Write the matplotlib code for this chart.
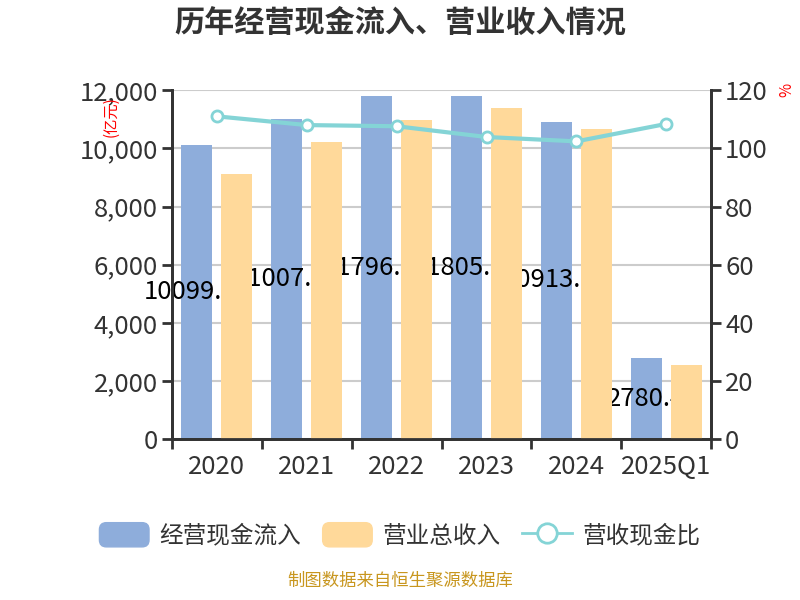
import matplotlib.pyplot as plt
import numpy as np
from matplotlib.patches import Patch, FancyBboxPatch
from matplotlib.lines import Line2D
from matplotlib.legend_handler import HandlerPatch
from matplotlib.ticker import FuncFormatter

plt.rcParams['font.family'] = ['Noto Sans CJK SC', 'DejaVu Sans']

years = ['2020', '2021', '2022', '2023', '2024', '2025Q1']
cash_in = [10099.64, 11007.52, 11796.03, 11805.17, 10913.02, 2780.4]
revenue = [9113, 10213, 10970, 11382, 10660, 2545]
ratio = [111.0, 108.0, 107.6, 103.9, 102.4, 108.4]

blue = '#8eaddb'
orange = '#ffd99a'
teal = '#84d4d6'
dark = '#333333'

fig = plt.figure(figsize=(8, 6), dpi=100)
ax = fig.add_axes([0.215, 0.268, 0.674, 0.5817])
ax2 = ax.twinx()

x = np.arange(len(years))
w = 0.345
off = 0.223

ax.bar(x - off, cash_in, w, color=blue, zorder=2)
for xi, v in zip(x, cash_in):
    ax.text(xi - off, v / 2, f'{v}', ha='center', va='center',
            fontsize=18.5, color='black', zorder=2.5)
ax.bar(x + off, revenue, w, color=orange, zorder=3)

ax.set_xlim(-0.5, len(years) - 0.5)
ax.set_ylim(0, 12000)
ax.set_yticks(np.arange(0, 12001, 2000))
ax.yaxis.set_major_formatter(FuncFormatter(lambda v, p: f'{int(v):,}'))
ax.grid(axis='y', color='#cccccc', lw=1.5, zorder=0)
ax.set_axisbelow(True)

ax.set_xticks(x)
ax.set_xticklabels(years)
ax.set_xticks(np.arange(-0.5, len(years)), minor=True)
ax.tick_params(axis='x', which='major', length=0, pad=11, labelsize=18.5, labelcolor=dark)
ax.tick_params(axis='x', which='minor', length=7, width=2, color=dark)
ax.tick_params(axis='y', length=7, width=2, color=dark, labelsize=18.5, labelcolor=dark, pad=3)

ax2.plot(x, ratio, color=teal, lw=3, marker='o', markersize=8,
         markerfacecolor='white', markeredgecolor=teal, markeredgewidth=2, zorder=4)
ax2.set_ylim(0, 120)
ax2.set_yticks(np.arange(0, 121, 20))
ax2.tick_params(axis='y', length=7, width=2, color=dark, labelsize=18.5, labelcolor=dark, pad=3)
ax.set_zorder(1)
ax2.set_zorder(2)
ax2.patch.set_visible(False)

for a in (ax, ax2):
    a.spines['top'].set_visible(False)
    for s in ('left', 'right', 'bottom'):
        a.spines[s].set_color(dark)
        a.spines[s].set_linewidth(2)

fig.text(0.139, 0.806, '(亿元)', rotation=90, color='red', fontsize=11,
         ha='center', va='center')
fig.text(0.984, 0.85, '%', rotation=90, color='red', fontsize=11,
         ha='center', va='center')

fig.text(0.5, 0.962, '历年经营现金流入、营业收入情况', ha='center', va='center',
         fontsize=21.7, fontweight='bold', color=dark)


def rounded(legend, orig_handle, xdescent, ydescent, width, height, fontsize):
    return FancyBboxPatch((-xdescent, -ydescent), width, height,
                          boxstyle='round,pad=0,rounding_size=5')


handles = [Patch(color=blue, label='经营现金流入'),
           Patch(color=orange, label='营业总收入'),
           Line2D([], [], color=teal, lw=2, marker='o', markersize=14,
                  markerfacecolor='white', markeredgewidth=2, label='营收现金比')]
fig.legend(handles=handles, loc='center', bbox_to_anchor=(0.5, 0.108), ncol=3,
           frameon=False, fontsize=17, handlelength=2.1, handleheight=1.2,
           handletextpad=0.45, columnspacing=0.9, labelcolor=dark,
           handler_map={Patch: HandlerPatch(patch_func=rounded)})

fig.text(0.5, 0.017, '制图数据来自恒生聚源数据库', ha='center', va='bottom',
         fontsize=12.5, color='#c8961e')

fig.savefig('out.png', dpi=100)
